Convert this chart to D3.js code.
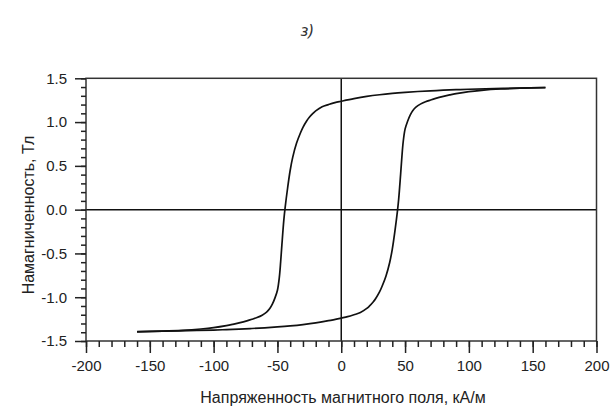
<!DOCTYPE html>
<meta charset="utf-8">
<head>
    <title>Петля гистерезиса</title>
</head>
<style>
    body { margin: 0; background: #fff; }
    text { font-family: "Liberation Sans", Arial, sans-serif; fill: #222; }
</style>
<body>
    <svg></svg>
    <script src="https://cdn.jsdelivr.net/npm/d3@7"></script>
    <script>
        // Data: descending and ascending branches of the loop (H in kA/m, B in T)
        var descH = [-160, -140, -125, -110, -100, -90, -85, -80, -74, -70,
                     -66, -62, -58.5, -56, -54, -52, -50, -48.5, -47.5, -46.5,
                     -45, -44, -42, -40, -38, -35, -32, -30, -27, -25,
                     -22, -20, -15, -10, -5, 0, 10, 20, 30, 40,
                     50, 60, 70, 80, 90, 100, 120, 140, 160];
        var descB = [-1.395, -1.387, -1.378, -1.363, -1.348, -1.325, -1.31, -1.293, -1.27, -1.252,
                     -1.232, -1.205, -1.17, -1.13, -1.08, -1.01, -0.92, -0.77, -0.6, -0.4,
                     -0.12, 0.02, 0.25, 0.45, 0.6, 0.76, 0.875, 0.94, 1.015, 1.055,
                     1.102, 1.128, 1.175, 1.2, 1.222, 1.238, 1.268, 1.293, 1.312, 1.327,
                     1.339, 1.349, 1.357, 1.364, 1.37, 1.375, 1.382, 1.388, 1.393];
        var ascH = [-160, -140, -120, -100, -90, -80, -70, -60, -50, -40,
                    -30, -20, -10, 0, 5, 10, 15, 20, 22, 25,
                    27, 30, 32, 35, 38, 40, 42, 44, 45, 46.5,
                    47.5, 48.5, 50, 52, 54, 56, 58.5, 62, 66, 70,
                    74, 80, 85, 90, 100, 110, 125, 140, 160];
        var ascB = [-1.393, -1.388, -1.382, -1.375, -1.37, -1.364, -1.357, -1.349, -1.339, -1.327,
                    -1.312, -1.293, -1.268, -1.238, -1.222, -1.2, -1.175, -1.128, -1.102, -1.055,
                    -1.015, -0.94, -0.875, -0.76, -0.6, -0.45, -0.25, -0.02, 0.12, 0.4,
                    0.6, 0.77, 0.92, 1.01, 1.08, 1.13, 1.17, 1.205, 1.232, 1.252,
                    1.27, 1.293, 1.31, 1.325, 1.348, 1.363, 1.378, 1.387, 1.395];

        var xMajor = [-200, -150, -100, -50, 0, 50, 100, 150, 200];
        var yMajor = [-1.5, -1.0, -0.5, 0.0, 0.5, 1.0, 1.5];
        var xMinor = d3.range(-200, 201, 10);
        var yMinor = d3.range(-15, 16, 1).map(d => d / 10);

        var title = "з)";
        var xTitle = "Напряженность магнитного поля, кА/м";
        var yTitle = "Намагниченность, Тл";

        // Layout
        var width = 614, height = 407;
        var mLeft = 86, mRight = 596.5, mTop = 78.3, mBottom = 341;

        var svg = d3.select('svg').attr('width', width).attr('height', height);

        var x = d3.scaleLinear().domain([-200, 200]).range([mLeft, mRight]);
        var y = d3.scaleLinear().domain([-1.5, 1.5]).range([mBottom, mTop]);

        // plain hyphen instead of unicode minus
        var fmtX = d => String(d);
        var fmtY = d => d3.format('.1f')(d).replace('−', '-');

        // title
        svg.append('text')
            .attr('x', 307).attr('y', 36)
            .attr('text-anchor', 'middle')
            .style('font-family', '"Noto Sans", sans-serif')
            .style('font-style', 'italic')
            .style('font-size', '17px')
            .style('fill', '#333')
            .text(title);

        // zero lines
        svg.append('line')
            .attr('x1', x(-200)).attr('x2', x(200))
            .attr('y1', y(0)).attr('y2', y(0))
            .attr('stroke', '#111').attr('stroke-width', 1.5);
        svg.append('line')
            .attr('x1', x(0)).attr('x2', x(0))
            .attr('y1', y(-1.5)).attr('y2', y(1.5))
            .attr('stroke', '#111').attr('stroke-width', 1.5);

        // loop
        var line = d3.line()
            .curve(d3.curveCatmullRom.alpha(0.5))
            .x(d => x(d[0]))
            .y(d => y(d[1]));

        [[descH, descB], [ascH, ascB]].forEach(function (br) {
            svg.append('path')
                .datum(br[0].map((h, i) => [h, br[1][i]]))
                .attr('d', line)
                .attr('fill', 'none')
                .attr('stroke', '#111')
                .attr('stroke-width', 1.7);
        });

        // frame
        svg.append('rect')
            .attr('x', mLeft).attr('y', mTop)
            .attr('width', mRight - mLeft).attr('height', mBottom - mTop)
            .attr('fill', 'none')
            .attr('stroke', '#333').attr('stroke-width', 1.5);

        // axes
        function styleAxis(g) {
            g.select('.domain').remove();
            g.selectAll('line').attr('stroke', '#222').attr('stroke-width', 1.5);
            g.selectAll('text').style('font-size', '15px').attr('fill', '#222')
                .style('font-family', '"Liberation Sans", Arial, sans-serif');
        }

        svg.append('g')
            .attr('transform', `translate(0,${mBottom})`)
            .call(d3.axisBottom(x).tickValues(xMinor).tickSize(6).tickFormat(''))
            .call(styleAxis);
        svg.append('g')
            .attr('transform', `translate(0,${mBottom})`)
            .call(d3.axisBottom(x).tickValues(xMajor).tickSize(12).tickPadding(7).tickFormat(fmtX))
            .call(styleAxis);

        svg.append('g')
            .attr('transform', `translate(${mLeft},0)`)
            .call(d3.axisLeft(y).tickValues(yMinor).tickSize(5).tickFormat(''))
            .call(styleAxis);
        svg.append('g')
            .attr('transform', `translate(${mLeft},0)`)
            .call(d3.axisLeft(y).tickValues(yMajor).tickSize(11).tickPadding(8).tickFormat(fmtY))
            .call(styleAxis);

        // axis titles
        svg.append('text')
            .attr('x', 343).attr('y', 403)
            .attr('text-anchor', 'middle')
            .style('font-size', '16px')
            .text(xTitle);

        svg.append('text')
            .attr('transform', `translate(34,${215}) rotate(-90)`)
            .attr('text-anchor', 'middle')
            .style('font-size', '16px')
            .text(yTitle);
    </script>
</body>
</html>
